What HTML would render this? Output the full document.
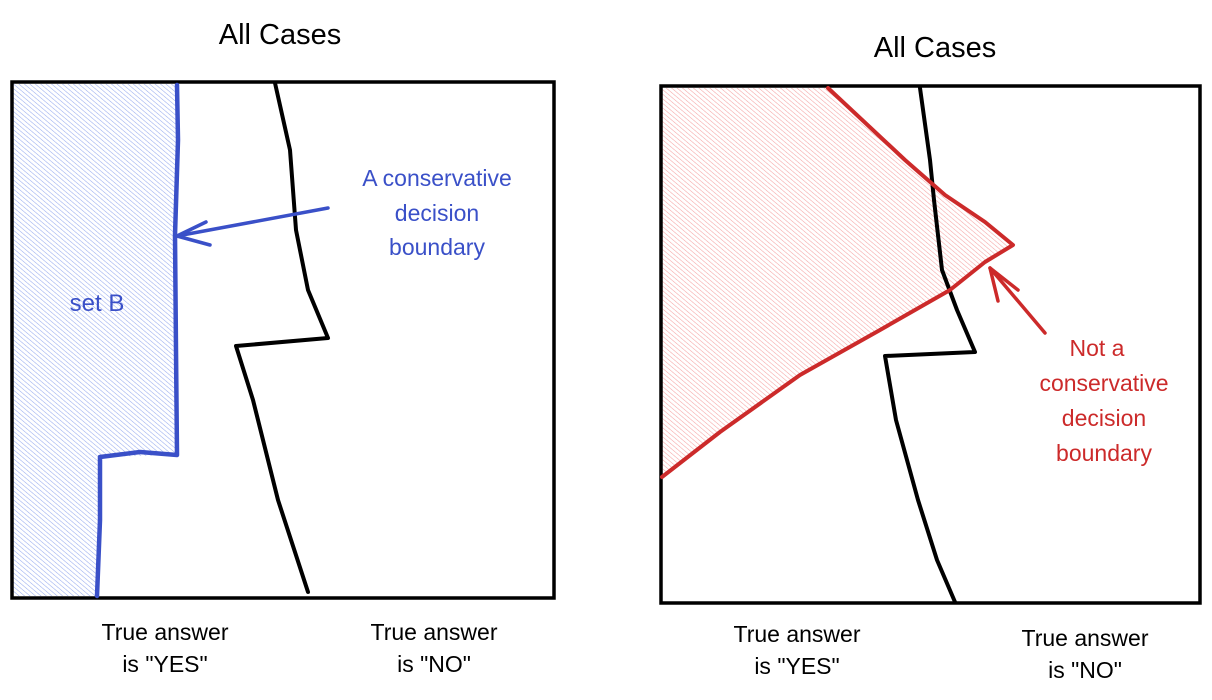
<!DOCTYPE html>
<html><head><meta charset="utf-8"><style>
html,body{margin:0;padding:0;background:#fff;}
svg{display:block;}
text{font-family:"Liberation Sans",sans-serif;}
</style></head><body>
<svg width="1212" height="700" viewBox="0 0 1212 700" xmlns="http://www.w3.org/2000/svg">
<defs>
<pattern id="hb" width="3.5" height="3.5" patternUnits="userSpaceOnUse" patternTransform="rotate(-50)">
<line x1="0" y1="0" x2="0" y2="3.5" stroke="#97abee" stroke-width="1.1"/>
</pattern>
<pattern id="hr" width="3.5" height="3.5" patternUnits="userSpaceOnUse" patternTransform="rotate(-50)">
<line x1="0" y1="0" x2="0" y2="3.5" stroke="#f5a3a3" stroke-width="1.1"/>
</pattern>
</defs>
<rect width="1212" height="700" fill="#fff"/>

<!-- Left -->
<text x="280" y="44" font-size="29" text-anchor="middle" fill="#000">All Cases</text>
<polygon points="13,84 177,84 174,235 177,455 100,457 97,596 13,596" fill="url(#hb)"/>
<rect x="12" y="82" width="542" height="516" fill="none" stroke="#000" stroke-width="3.5"/>
<polyline points="275,83 290,150 296,230 308,290 328,338 236,346 253,400 278,500 308,592" fill="none" stroke="#000" stroke-width="4" stroke-linejoin="round" stroke-linecap="round"/>
<polyline points="177,85 178,140 175,235 176,350 177,455 140,452 100,457 100,520 97,596" fill="none" stroke="#3a50c8" stroke-width="4.5" stroke-linejoin="round" stroke-linecap="round"/>
<line x1="328" y1="208" x2="177" y2="236" stroke="#3a50c8" stroke-width="3.5" stroke-linecap="round"/>
<polyline points="206,222 177,236 210,245" fill="none" stroke="#3a50c8" stroke-width="3.5" stroke-linecap="round" stroke-linejoin="round"/>
<text x="437" y="186" font-size="23" text-anchor="middle" fill="#3a50c8">A conservative</text>
<text x="437" y="221" font-size="23" text-anchor="middle" fill="#3a50c8">decision</text>
<text x="437" y="255" font-size="23" text-anchor="middle" fill="#3a50c8">boundary</text>
<text x="97" y="311" font-size="24" text-anchor="middle" fill="#3a50c8">set B</text>
<text x="165" y="640" font-size="23" text-anchor="middle" fill="#000">True answer</text>
<text x="165" y="672" font-size="23" text-anchor="middle" fill="#000">is "YES"</text>
<text x="434" y="640" font-size="23" text-anchor="middle" fill="#000">True answer</text>
<text x="434" y="672" font-size="23" text-anchor="middle" fill="#000">is "NO"</text>

<!-- Right -->
<text x="935" y="57" font-size="29" text-anchor="middle" fill="#000">All Cases</text>
<polygon points="662,88 828,88 905,160 945,195 985,222 1013,245 985,262 950,290 880,330 800,375 720,432 662,477" fill="url(#hr)"/>
<rect x="661" y="86" width="539" height="517" fill="none" stroke="#000" stroke-width="3.5"/>
<polyline points="920,88 930,160 934,200 942,270 957,310 975,352 885,356 896,420 918,500 937,560 955,602" fill="none" stroke="#000" stroke-width="4" stroke-linejoin="round" stroke-linecap="round"/>
<polyline points="828,88 905,160 945,195 985,222 1013,245 985,262 950,290 880,330 800,375 720,432 662,477" fill="none" stroke="#cc2a2a" stroke-width="4" stroke-linejoin="round" stroke-linecap="round"/>
<line x1="1045" y1="333" x2="990" y2="268" stroke="#cc2a2a" stroke-width="3.5" stroke-linecap="round"/>
<polyline points="1018,290 990,268 998,301" fill="none" stroke="#cc2a2a" stroke-width="3.5" stroke-linecap="round" stroke-linejoin="round"/>
<text x="1097" y="356" font-size="23" text-anchor="middle" fill="#cc2a2a">Not a</text>
<text x="1104" y="391" font-size="23" text-anchor="middle" fill="#cc2a2a">conservative</text>
<text x="1104" y="426" font-size="23" text-anchor="middle" fill="#cc2a2a">decision</text>
<text x="1104" y="461" font-size="23" text-anchor="middle" fill="#cc2a2a">boundary</text>
<text x="797" y="642" font-size="23" text-anchor="middle" fill="#000">True answer</text>
<text x="797" y="674" font-size="23" text-anchor="middle" fill="#000">is "YES"</text>
<text x="1085" y="646" font-size="23" text-anchor="middle" fill="#000">True answer</text>
<text x="1085" y="678" font-size="23" text-anchor="middle" fill="#000">is "NO"</text>
</svg>
</body></html>
